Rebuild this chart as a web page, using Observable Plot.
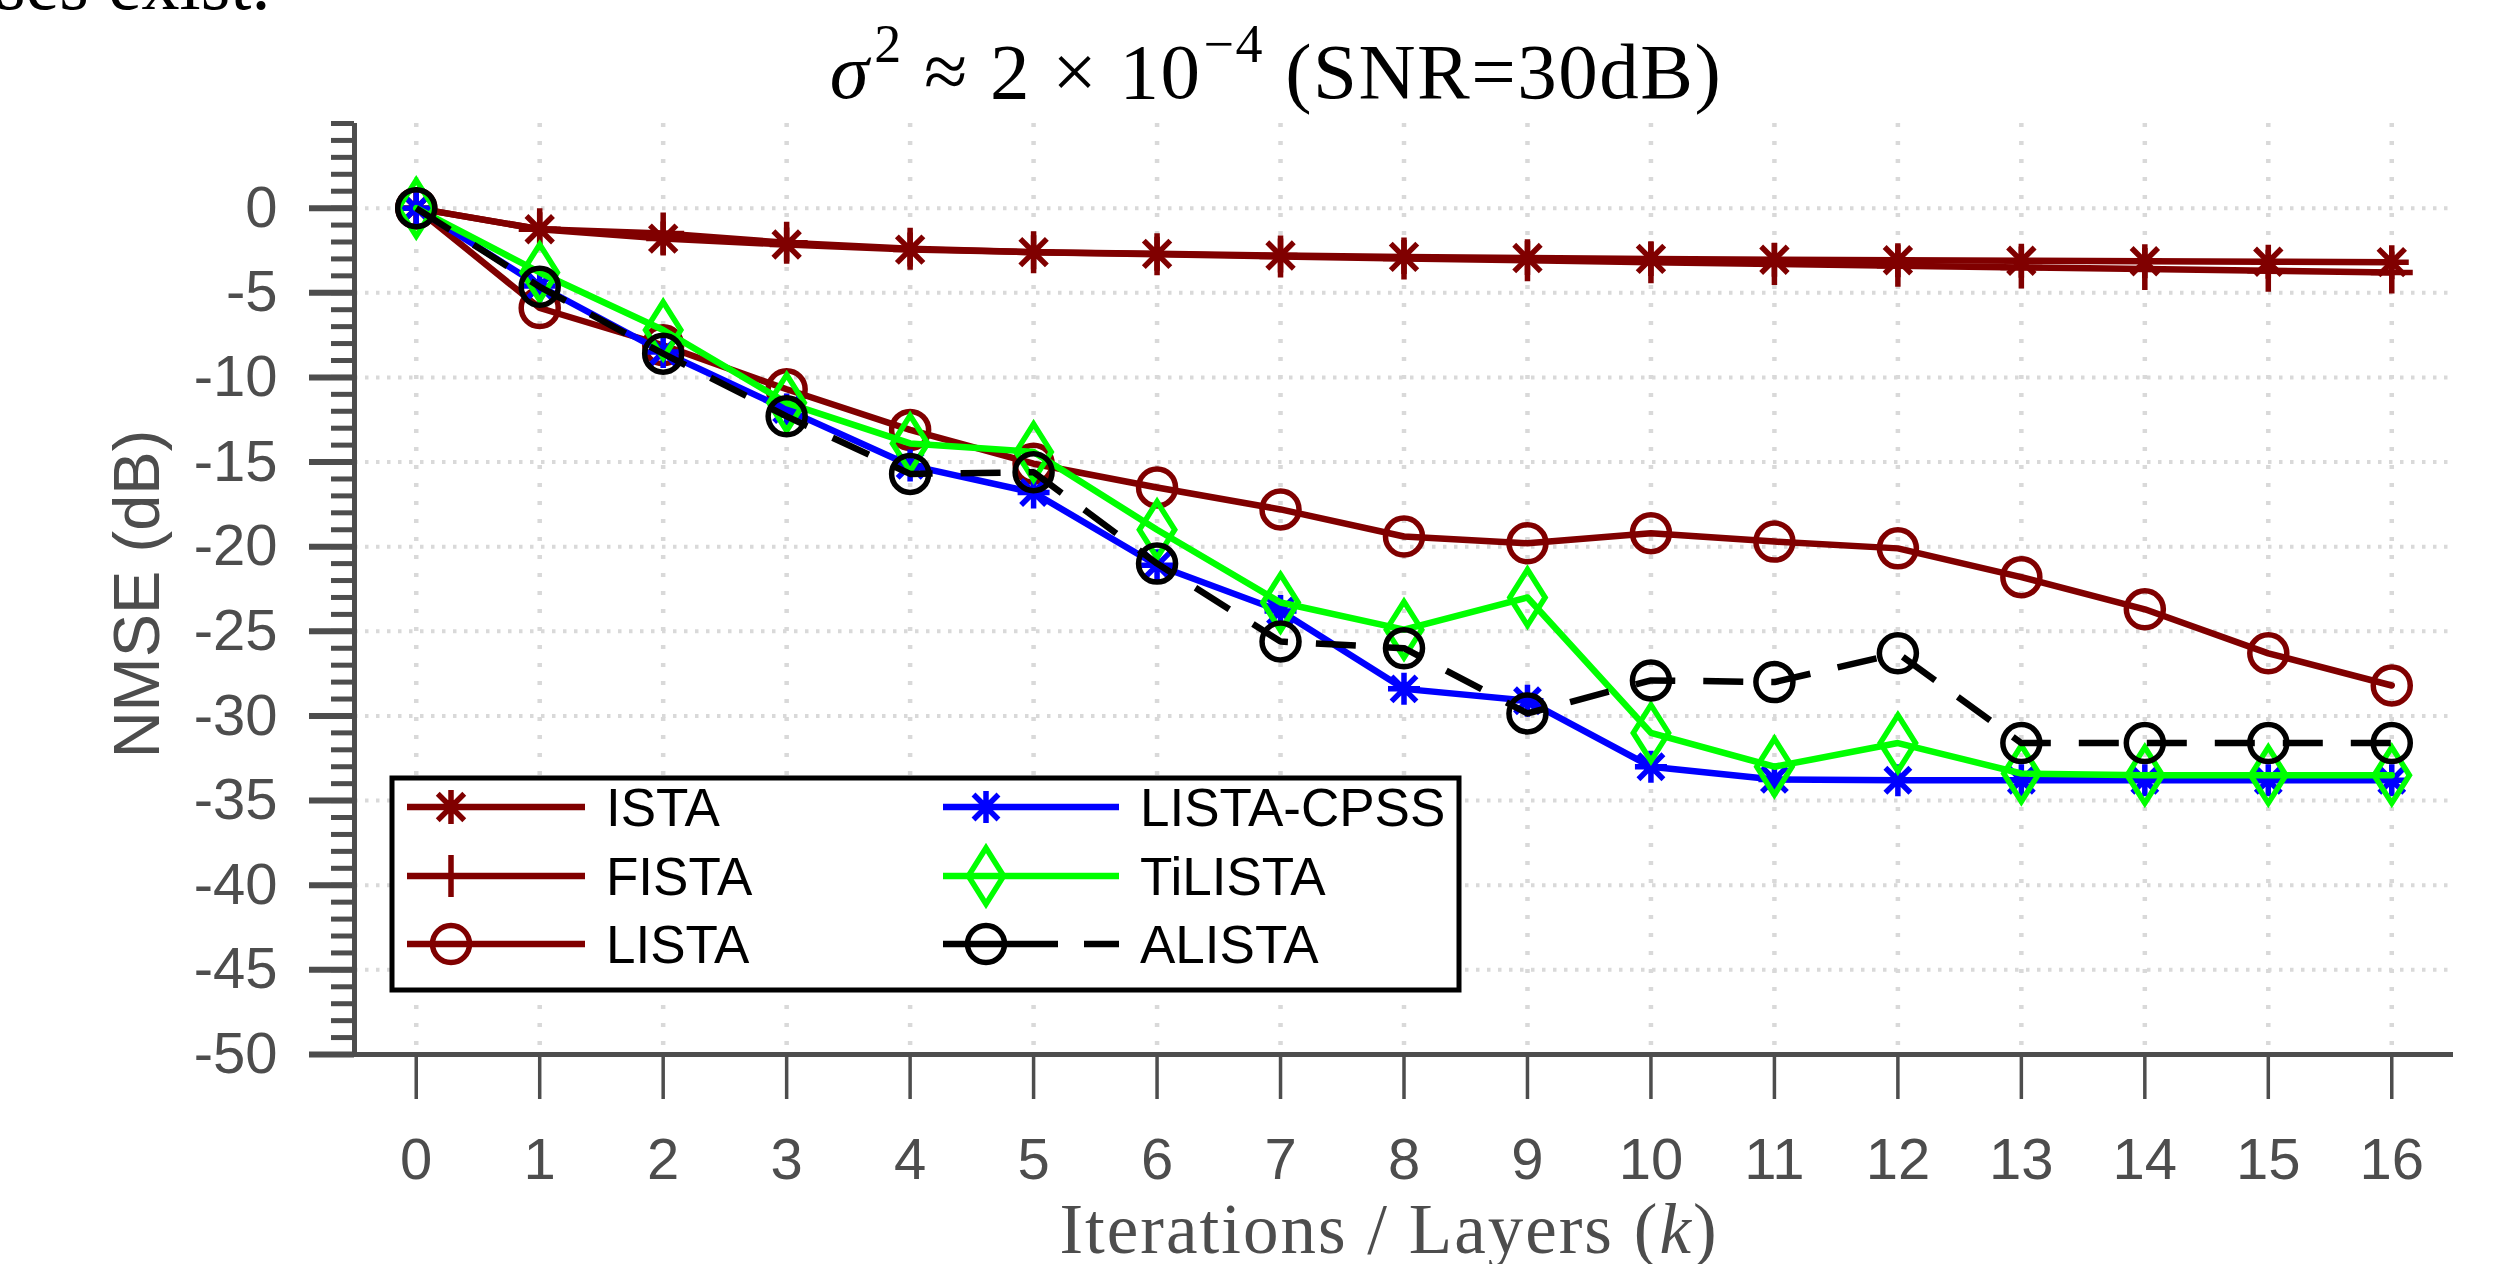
<!DOCTYPE html>
<html>
<head>
<meta charset="utf-8">
<script src="https://cdn.jsdelivr.net/npm/d3@7"></script>
<script src="https://cdn.jsdelivr.net/npm/@observablehq/plot@0.6"></script>
<style>
  html, body { margin: 0; padding: 0; background: #fff; overflow: hidden; }
  #wrap { position: relative; width: 2506px; height: 1264px; overflow: hidden; background: #fff; }
  #wrap > svg { position: absolute; left: 0; top: 0; }
  #overlay { position: absolute; left: 0; top: 0; pointer-events: none; }
</style>
</head>
<body>
<div id="wrap"></div>
<script>
// ---------- data ----------
const iterations = [0, 1, 2, 3, 4, 5, 6, 7, 8, 9, 10, 11, 12, 13, 14, 15, 16];
const seriesNames = ["ISTA", "FISTA", "LISTA", "LISTA-CPSS", "TiLISTA", "ALISTA"];
const ista      = [0, -1.25, -1.8, -2.15, -2.45, -2.6, -2.7, -2.8, -2.88, -2.95, -3.0, -3.05, -3.08, -3.11, -3.14, -3.17, -3.19];
const fista     = [0, -1.25, -1.5, -2.05, -2.4, -2.6, -2.72, -2.85, -2.97, -3.08, -3.2, -3.3, -3.4, -3.5, -3.6, -3.7, -3.8];
const lista     = [0, -5.9, -8.1, -10.7, -13.1, -15.1, -16.5, -17.8, -19.4, -19.8, -19.2, -19.7, -20.1, -21.8, -23.7, -26.3, -28.2];
const listaCpss = [0, -4.6, -8.5, -11.9, -15.2, -16.8, -21.1, -23.8, -28.4, -29.1, -33.0, -33.75, -33.8, -33.8, -33.8, -33.8, -33.8];
const tiLista   = [0, -3.8, -7.2, -11.5, -13.9, -14.4, -19.0, -23.3, -24.9, -23.0, -31.0, -33.0, -31.6, -33.4, -33.5, -33.5, -33.5];
const aLista    = [0, -4.65, -8.6, -12.3, -15.7, -15.6, -21.0, -25.6, -26.0, -29.85, -27.9, -28.0, -26.3, -31.6, -31.6, -31.6, -31.6];
const xTicks = [0, 1, 2, 3, 4, 5, 6, 7, 8, 9, 10, 11, 12, 13, 14, 15, 16];
const yMajorTicks = [-50, -45, -40, -35, -30, -25, -20, -15, -10, -5, 0];
const yMinorTicks = d3.range(-50, 6, 1);
const xDomain = [-0.5, 16.5];
const yDomain = [-50, 5];

// ---------- styles ----------
const asterisk = {
  draw(ctx, size) {
    const r = Math.sqrt(size / Math.PI), d = r * 0.78;
    ctx.moveTo(0, -r); ctx.lineTo(0, r);
    ctx.moveTo(-r, 0); ctx.lineTo(r, 0);
    ctx.moveTo(-d, -d); ctx.lineTo(d, d);
    ctx.moveTo(-d, d); ctx.lineTo(d, -d);
  }
};
const plus = {
  draw(ctx, size) {
    const r = Math.sqrt(size / Math.PI);
    ctx.moveTo(0, -r); ctx.lineTo(0, r);
    ctx.moveTo(-r, 0); ctx.lineTo(r, 0);
  }
};
const diamond = {
  draw(ctx, size) {
    const r = Math.sqrt(size / Math.PI), w = r * 0.63;
    ctx.moveTo(0, -r); ctx.lineTo(w, 0); ctx.lineTo(0, r); ctx.lineTo(-w, 0); ctx.closePath();
  }
};
const DARKRED = "#800000", AXIS = "#4d4d4d";
const styles = [
  {color: DARKRED, symbol: asterisk, r: 17, dash: null},
  {color: DARKRED, symbol: plus, r: 21, dash: null},
  {color: DARKRED, symbol: "circle", r: 18.5, dash: null},
  {color: "#0000ff", symbol: asterisk, r: 16, dash: null},
  {color: "#00ff00", symbol: diamond, r: 28, dash: null},
  {color: "#000000", symbol: "circle", r: 18.5, dash: "40 28"}
];
const seriesValues = [ista, fista, lista, listaCpss, tiLista, aLista];
const tables = seriesNames.map((name, i) => iterations.map((k, j) => ({name, k, v: seriesValues[i][j]})));

const marks = [
  Plot.gridY(yMajorTicks, {stroke: "#d9d9d9", strokeOpacity: 1, strokeWidth: 4, strokeDasharray: "3.5 7.5"}),
  Plot.gridX(xTicks, {stroke: "#d9d9d9", strokeOpacity: 1, strokeWidth: 4.5, strokeDasharray: "4 14"})
];
tables.forEach((rows, i) => {
  const s = styles[i];
  marks.push(Plot.line(rows, {x: "k", y: "v", stroke: s.color, strokeWidth: 6.5,
    strokeDasharray: s.dash || undefined, strokeLinecap: s.dash ? "butt" : "round", strokeLinejoin: "round"}));
  marks.push(Plot.dot(rows, {x: "k", y: "v", symbol: s.symbol, r: s.r, stroke: s.color, strokeWidth: 5.5, fill: "none"}));
});
marks.push(
  Plot.ruleX([xDomain[0]], {stroke: AXIS, strokeWidth: 5}),
  Plot.ruleY([yDomain[0]], {stroke: AXIS, strokeWidth: 5}),
  Plot.axisY(yMinorTicks, {anchor: "left", tickSize: 23, tickFormat: () => "", label: null, color: AXIS, strokeWidth: 5}),
  Plot.axisY(yMajorTicks, {anchor: "left", tickSize: 45, tickPadding: 32, fontSize: 58, label: null, color: AXIS, strokeWidth: 6,
    tickFormat: d => (d < 0 ? "-" + (-d) : String(d))}),
  Plot.axisX(xTicks, {anchor: "bottom", tickSize: 45, tickPadding: 38, fontSize: 58, label: null, color: AXIS, strokeWidth: 3.5,
    tickFormat: d => String(d)})
);

const chart = Plot.plot({
  width: 2506,
  height: 1264,
  marginLeft: 354,
  marginRight: 53,
  marginTop: 123,
  marginBottom: 210,
  x: {domain: xDomain},
  y: {domain: yDomain},
  style: {fontFamily: "'Liberation Sans', Arial, Helvetica, sans-serif", background: "#fff", overflow: "visible"},
  marks
});
const wrap = document.getElementById("wrap");
wrap.appendChild(chart);

// ---------- overlay: titles and legend ----------
const ov = d3.select(wrap).append("svg").attr("id", "overlay").attr("width", 2506).attr("height", 1264);
const SERIF = "'Liberation Serif', 'Times New Roman', serif";

// stray text fragment at top-left of the source page
ov.append("text").attr("x", -4).attr("y", 9).attr("font-family", SERIF).attr("font-size", 76)
  .attr("fill", "#000").text("ses exist.");

// title
const title = ov.append("text").attr("x", 1276).attr("y", 98).attr("text-anchor", "middle")
  .attr("font-family", SERIF).attr("font-size", 79).attr("letter-spacing", 1.5).attr("fill", "#000");
title.append("tspan").attr("font-style", "italic").text("σ");
title.append("tspan").attr("font-size", 54).attr("dy", -36).attr("dx", 4).text("2");
title.append("tspan").attr("dy", 36).text(" ≈ 2 × 10");
title.append("tspan").attr("font-size", 54).attr("dy", -36).attr("dx", 2).text("−4");
title.append("tspan").attr("dy", 36).text(" (SNR=30dB)");

// x label
const xl = ov.append("text").attr("x", 1389).attr("y", 1253).attr("text-anchor", "middle")
  .attr("font-family", SERIF).attr("font-size", 71).attr("letter-spacing", 2).attr("fill", AXIS);
xl.append("tspan").text("Iterations / Layers (");
xl.append("tspan").attr("font-style", "italic").text("k");
xl.append("tspan").text(")");

// y label
ov.append("text").attr("transform", "translate(159,594) rotate(-90)").attr("text-anchor", "middle")
  .attr("font-family", "'Liberation Sans', Arial, sans-serif").attr("font-size", 65).attr("fill", AXIS)
  .text("NMSE (dB)");

// legend
const lg = ov.append("g");
lg.append("rect").attr("x", 392).attr("y", 778).attr("width", 1067).attr("height", 212)
  .attr("fill", "#fff").attr("stroke", "#000").attr("stroke-width", 5);
const rowsY = [807, 876, 944];
const cols = [{x1: 407, x2: 585, m: 451, t: 606}, {x1: 943, x2: 1119, m: 986, t: 1140}];
seriesNames.forEach((name, i) => {
  const s = styles[i];
  const c = cols[Math.floor(i / 3)], y = rowsY[i % 3];
  lg.append("line").attr("x1", c.x1).attr("x2", c.x2).attr("y1", y).attr("y2", y)
    .attr("stroke", s.color).attr("stroke-width", 6.5)
    .attr("stroke-dasharray", s.dash ? "115 26 40 30" : null);
  if (s.symbol === "circle") {
    lg.append("circle").attr("cx", c.m).attr("cy", y).attr("r", s.r)
      .attr("fill", "none").attr("stroke", s.color).attr("stroke-width", 5.5);
  } else {
    lg.append("path").attr("transform", `translate(${c.m},${y})`)
      .attr("d", d3.symbol(s.symbol, s.r * s.r * Math.PI)())
      .attr("fill", "none").attr("stroke", s.color).attr("stroke-width", 5.5);
  }
  lg.append("text").attr("x", c.t).attr("y", y).attr("dy", "0.36em")
    .attr("font-family", "'Liberation Sans', Arial, sans-serif").attr("font-size", 53).attr("fill", "#000")
    .text(name);
});
</script>
</body>
</html>
